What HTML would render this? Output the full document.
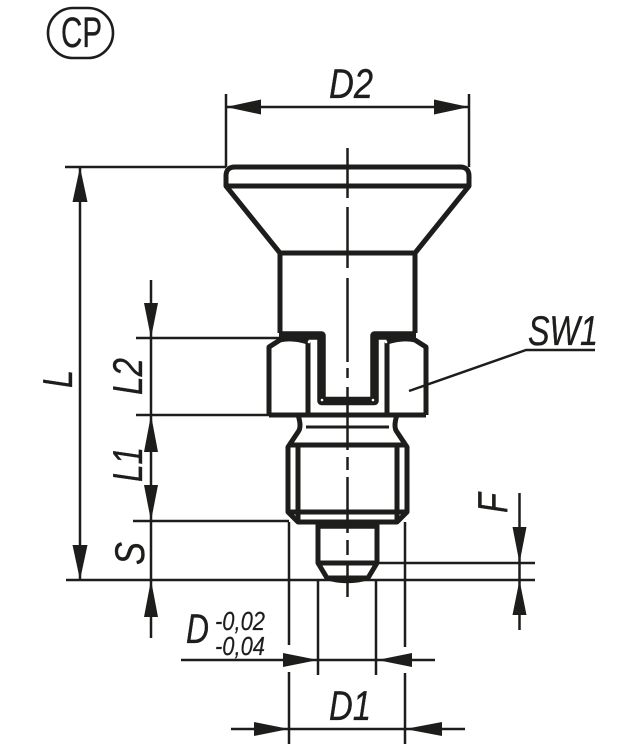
<!DOCTYPE html>
<html><head><meta charset="utf-8"><style>
html,body{margin:0;padding:0;background:#fff}
svg{display:block}
text{font-family:"Liberation Sans",sans-serif;fill:#1d1d1b;stroke:#1d1d1b;stroke-width:.35}
.t{font-style:italic;font-size:42px}
.s{font-style:italic;font-size:26px;stroke-width:.2}
</style></head><body>
<svg width="631" height="750" viewBox="0 0 631 750" xmlns="http://www.w3.org/2000/svg">
<g fill="none" stroke="#1d1d1b" stroke-linejoin="round">
<!-- CP -->
<rect x="48" y="8" width="65" height="50" rx="25" ry="25" stroke-width="2.6"/>
<!-- part outlines -->
<g stroke-width="5">
<path d="M226 186 L226 176 Q226 167 235 167 L460 167 Q469 167 469 176 L469 186 Z"/>
<path d="M226 186 L280 253 L415 253 L469 186"/>
<path d="M280 253 V333 M415 253 V333"/>
<path d="M269 415 V347 L280 340 Q292 337 308 342 M426 415 V347 L415 340 Q403 337 387 342"/>
<path d="M269 415 H426"/>
<path d="M308 342 V415 M387 342 V415"/>
<path d="M298 415 Q302 427 298 432 L288 447 V512 L298 522 H397 L407 512 V447 L397 432 Q393 427 397 415"/>
<path d="M288 445 H407"/>
<path d="M298 445 V522 M397 445 V522"/>
<path d="M288 512 H407"/>
<path d="M318 522 V563 L327 578 H368 L377 563 V522"/>
<path d="M318 563 H377"/>
</g>
<path d="M306 427 H389" stroke-width="3"/>
<path d="M279 335.5 H321.5 V401 H374.5 V335.5 H416" stroke-width="8.5"/>
<path d="M318 525 H377" stroke-width="7.5"/>
<path d="M327 578 Q347 584 368 578" stroke-width="4.5"/>
<!-- centre line -->
<path d="M347.5 148 V198 M347.5 207 V268 M347.5 278 V362 M347.5 368 V378 M347.5 387 V450 M347.5 457 V470 M347.5 477 V533 M347.5 540 V555 M347.5 562 V597" stroke-width="2.5"/>
<!-- dimension lines -->
<g stroke-width="2.5">
<path d="M226 94 V167 M469 94 V167 M226 107 H469"/>
<path d="M65 167 H226"/>
<path d="M80 167 V580"/>
<path d="M66 580 H535"/>
<path d="M151 280 V638"/>
<path d="M136 338 H280 M136 415 H269 M133 521 H289"/>
<path d="M377 563 H535"/>
<path d="M519.5 493 V630"/>
<path d="M409 391 L526 350 H595"/>
<path d="M289 522 V645 M289 672 V744 M405 522 V647 M405 673 V744"/>
<path d="M318 580 V675 M376 580 V675"/>
<path d="M181 660 H435"/>
<path d="M231 729 H465"/>
</g>
</g>
<g fill="#fff">
<circle cx="309" cy="342" r="1.3"/><circle cx="386" cy="342" r="1.3"/>
<circle cx="322" cy="400" r="1.3"/><circle cx="373" cy="400" r="1.3"/>
</g>
<g fill="#1d1d1b">
<path d="M226 107 L261 99.5 V114.5 Z M469 107 L434 99.5 V114.5 Z"/>
<path d="M80 167 L72.5 202 H87.5 Z M80 580 L72.5 545 H87.5 Z"/>
<path d="M151 338 L144 303 H158 Z M151 415 L144 452 H158 Z M151 521 L144 485 H158 Z M151 580 L144 617 H158 Z"/>
<path d="M519.5 563 L512.5 527 H526.5 Z M519.5 580 L512.5 615 H526.5 Z"/>
<path d="M318 660 L283 653 V667 Z M377 660 L412 653 V667 Z"/>
<path d="M289 729 L254 722 V736 Z M405 729 L442 722 V736 Z"/>
</g>
<text x="61" y="47" font-size="43" textLength="41" lengthAdjust="spacingAndGlyphs">CP</text>
<text class="t" x="329" y="98" textLength="44" lengthAdjust="spacingAndGlyphs">D2</text>
<text class="t" x="528" y="345" textLength="70" lengthAdjust="spacingAndGlyphs">SW1</text>
<text class="t" x="329" y="720" textLength="42" lengthAdjust="spacingAndGlyphs">D1</text>
<text class="t" x="186" y="643" textLength="23" lengthAdjust="spacingAndGlyphs">D</text>
<text class="s" x="215" y="630" textLength="50" lengthAdjust="spacingAndGlyphs">-0,02</text>
<text class="s" x="215" y="655" textLength="50" lengthAdjust="spacingAndGlyphs">-0,04</text>
<text class="t" transform="translate(72 388) rotate(-90)" textLength="18" lengthAdjust="spacingAndGlyphs">L</text>
<text class="t" transform="translate(142 395) rotate(-90)" textLength="37" lengthAdjust="spacingAndGlyphs">L2</text>
<text class="t" transform="translate(142 482) rotate(-90)" textLength="35" lengthAdjust="spacingAndGlyphs">L1</text>
<text class="t" transform="translate(144 565) rotate(-90)" textLength="23" lengthAdjust="spacingAndGlyphs">S</text>
<text class="t" transform="translate(507 513) rotate(-90)" textLength="20" lengthAdjust="spacingAndGlyphs">F</text>
</svg>
</body></html>
